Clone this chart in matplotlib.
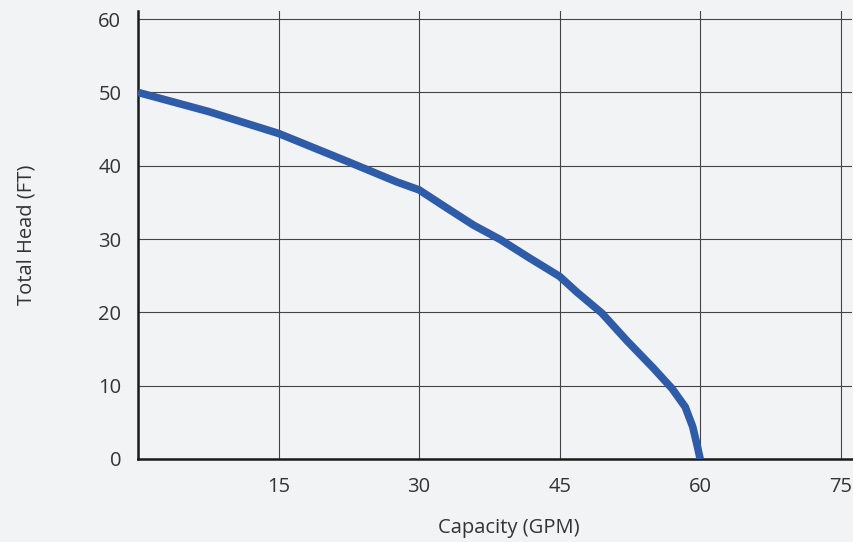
import matplotlib
matplotlib.use("Agg")
import matplotlib.pyplot as plt

# pump curve
capacity_gpm = [0, 7.5, 15, 22.5, 27.6, 30, 33, 35.8, 38.7, 41.8, 45,
                46.8, 49.5, 52.2, 55, 57, 58.4, 59.2, 59.7, 60]
head_ft = [50, 47.4, 44.4, 40.5, 37.8, 36.7, 34.2, 31.9, 29.9, 27.4, 24.9,
           22.8, 19.9, 16.1, 12.4, 9.6, 7.1, 4.4, 1.7, 0]

x_ticks = [15, 30, 45, 60, 75]
y_ticks = [0, 10, 20, 30, 40, 50, 60]

bg = '#f2f3f5'
text_col = '#333333'
plt.rcParams['font.family'] = ['Open Sans', 'DejaVu Sans']

fig = plt.figure(figsize=(8.54, 5.42), dpi=100, facecolor=bg)
ax = fig.add_axes([138 / 854, 83 / 542, 714 / 854, 448 / 542])
ax.set_facecolor(bg)

ax.plot(capacity_gpm, head_ft, color='#2f5ca9', lw=5.5,
        solid_joinstyle='round', solid_capstyle='butt', zorder=3)

ax.set_xlim(0, 76.2)
ax.set_ylim(0, 61.1)
ax.set_xticks(x_ticks)
ax.set_yticks(y_ticks)
ax.tick_params(length=0, labelsize=14.5, colors=text_col)
ax.tick_params(axis='x', pad=13)
ax.tick_params(axis='y', pad=12)

ax.set_axisbelow(True)
ax.grid(True, color='#444444', lw=0.8)

for side in ['top', 'right']:
    ax.spines[side].set_visible(False)
for side in ['left', 'bottom']:
    ax.spines[side].set_color('#1a1a1a')
    ax.spines[side].set_linewidth(1.8)

ax.set_xlabel('Capacity (GPM)', fontsize=14.5, color=text_col)
ax.set_ylabel('Total Head (FT)', fontsize=14.5, color=text_col)
ax.xaxis.set_label_coords(0.52, -0.132)
ax.yaxis.set_label_coords(-0.142, 0.5)

fig.savefig('out.png', dpi=100, facecolor=bg)
